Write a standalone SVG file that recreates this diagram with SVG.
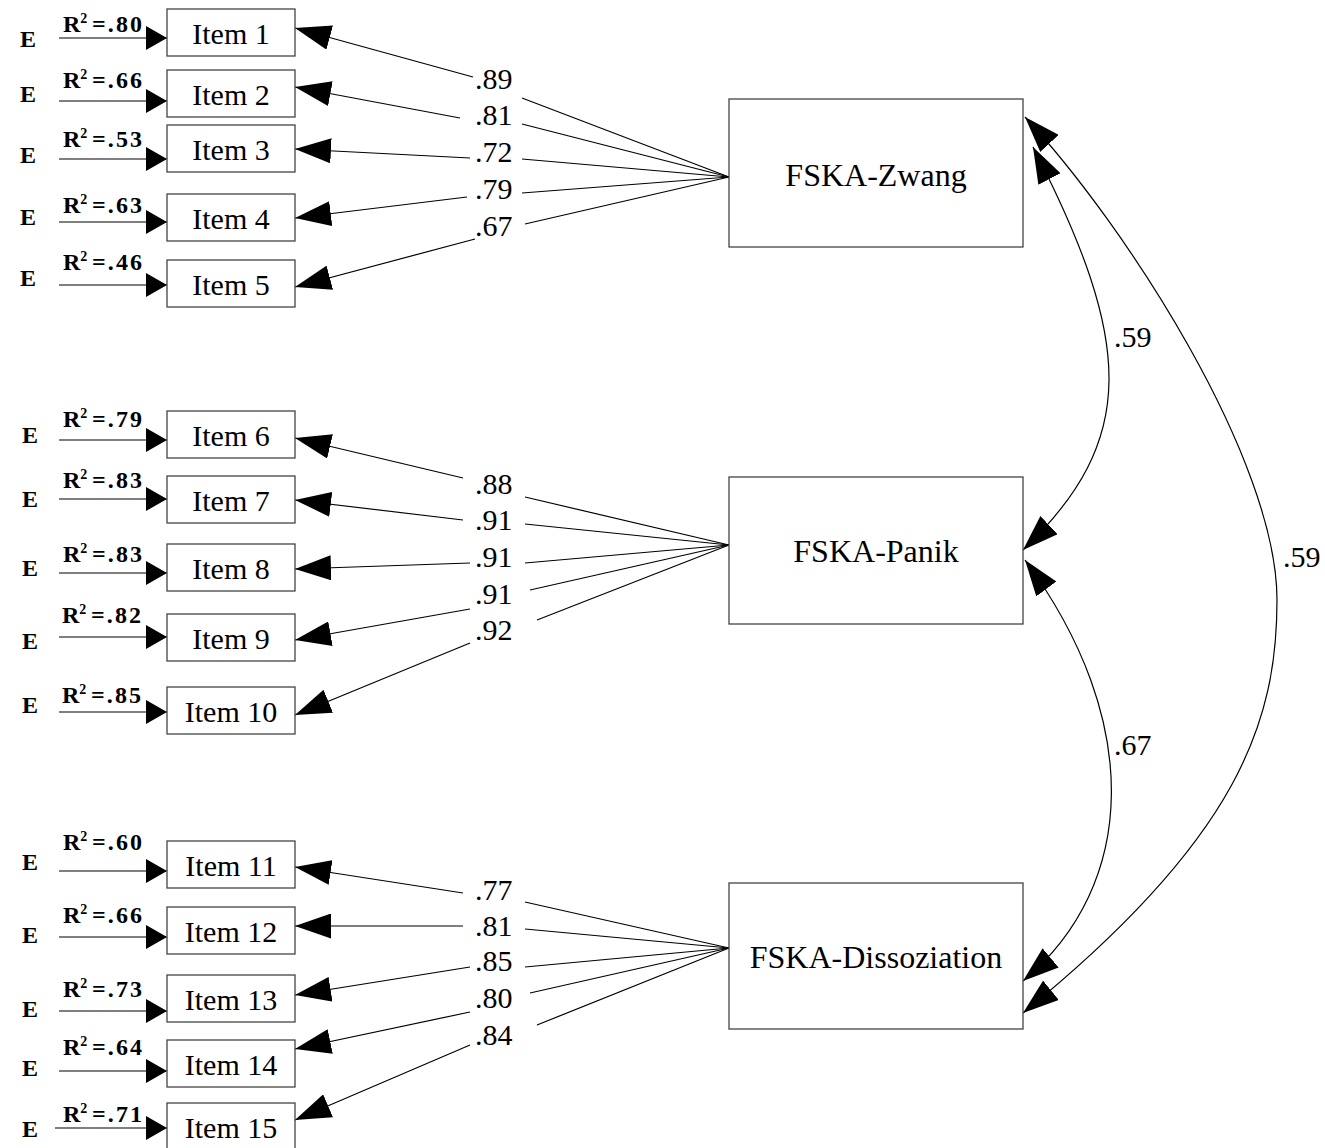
<svg xmlns="http://www.w3.org/2000/svg" width="1325" height="1148" viewBox="0 0 1325 1148">
<style>
text{font-family:"Liberation Serif","Times New Roman",serif;fill:#000}
.box{fill:#fff;stroke:#444;stroke-width:1.3}
.it{font-size:30px;text-anchor:middle}
.fac{font-size:32px;text-anchor:middle}
.e{font-size:24px;font-weight:bold}
.r{font-size:24px;font-weight:bold}
.sup{font-size:14px;font-weight:bold}
.ld{font-size:30px}
.ln{fill:none;stroke:#000;stroke-width:1.2}
.ia{marker-end:url(#ah)}
.ea{marker-end:url(#eh)}
.dbl{marker-start:url(#ah);marker-end:url(#ah)}
</style>
<defs>
<marker id="ah" markerUnits="userSpaceOnUse" viewBox="0 0 36 25" markerWidth="36" markerHeight="25" refX="36" refY="12.5" orient="auto-start-reverse"><path d="M0,0 L36,12.5 L0,25 Z" fill="#000"/></marker>
<marker id="eh" markerUnits="userSpaceOnUse" viewBox="0 0 21 24" markerWidth="21" markerHeight="24" refX="21" refY="12" orient="auto"><path d="M0,0 L21,12 L0,24 Z" fill="#000"/></marker>
</defs>

<g id="connectors">
<path class="ln ea" d="M59,38 H167"/>
<path class="ln ea" d="M59,101 H167"/>
<path class="ln ea" d="M59,159 H167"/>
<path class="ln ea" d="M59,222 H167"/>
<path class="ln ea" d="M59,285 H167"/>
<path class="ln ea" d="M59,440 H167"/>
<path class="ln ea" d="M59,499 H167"/>
<path class="ln ea" d="M59,573 H167"/>
<path class="ln ea" d="M59,637 H167"/>
<path class="ln ea" d="M59,712 H167"/>
<path class="ln ea" d="M59,871 H167"/>
<path class="ln ea" d="M59,937 H167"/>
<path class="ln ea" d="M59,1011 H167"/>
<path class="ln ea" d="M59,1071 H167"/>
<path class="ln ea" d="M55,1128 H167"/>
<path class="ln ia" d="M473,77 L295,28"/><path class="ln" d="M522,98 L729,177"/>
<path class="ln ia" d="M460,118 L295,87"/><path class="ln" d="M522,124 L729,177"/>
<path class="ln ia" d="M470,158 L295,149"/><path class="ln" d="M522,159 L729,177"/>
<path class="ln ia" d="M467,197 L295,218"/><path class="ln" d="M522,193 L729,177"/>
<path class="ln ia" d="M475,239 L295,287"/><path class="ln" d="M525,224 L729,177"/>
<path class="ln ia" d="M463,478 L295,438"/><path class="ln" d="M525,497 L729,545"/>
<path class="ln ia" d="M463,520 L295,500"/><path class="ln" d="M525,524 L729,545"/>
<path class="ln ia" d="M470,563 L295,569"/><path class="ln" d="M525,563 L729,545"/>
<path class="ln ia" d="M470,609 L295,640"/><path class="ln" d="M530,590 L729,545"/>
<path class="ln ia" d="M470,643 L295,715"/><path class="ln" d="M537,620 L729,545"/>
<path class="ln ia" d="M463,893 L295,867"/><path class="ln" d="M525,902 L729,948"/>
<path class="ln ia" d="M463,926 L295,926"/><path class="ln" d="M525,929 L729,948"/>
<path class="ln ia" d="M470,967 L295,995"/><path class="ln" d="M525,967 L729,948"/>
<path class="ln ia" d="M470,1012 L295,1049"/><path class="ln" d="M530,993 L729,948"/>
<path class="ln ia" d="M470,1045 L295,1120"/><path class="ln" d="M537,1025 L729,948"/>
<path class="ln dbl" d="M1033,147 C1134,343 1138,440 1023,550"/>
<path class="ln dbl" d="M1025,560 C1143,720 1138,885 1023,981"/>
<path class="ln dbl" d="M1025,117 C1127,227 1277,460 1277,600 C1277,720 1240,837 1023,1013"/>
</g>

<g id="loading-labels">
<text class="ld" x="475" y="89">.89</text>
<text class="ld" x="475" y="125">.81</text>
<text class="ld" x="475" y="162">.72</text>
<text class="ld" x="475" y="199">.79</text>
<text class="ld" x="475" y="236">.67</text>
<text class="ld" x="475" y="494">.88</text>
<text class="ld" x="475" y="530">.91</text>
<text class="ld" x="475" y="567">.91</text>
<text class="ld" x="475" y="604">.91</text>
<text class="ld" x="475" y="640">.92</text>
<text class="ld" x="475" y="900">.77</text>
<text class="ld" x="475" y="936">.81</text>
<text class="ld" x="475" y="971">.85</text>
<text class="ld" x="475" y="1008">.80</text>
<text class="ld" x="475" y="1045">.84</text>
<text class="ld" x="1114" y="347">.59</text>
<text class="ld" x="1114" y="755">.67</text>
<text class="ld" x="1283" y="567">.59</text>
</g>

<g id="factor-zwang"><rect class="box" x="729" y="99" width="294" height="148"/><text class="fac" x="876" y="186">FSKA-Zwang</text></g>
<g id="factor-panik"><rect class="box" x="729" y="477" width="294" height="147"/><text class="fac" x="876" y="562">FSKA-Panik</text></g>
<g id="factor-dissoziation"><rect class="box" x="729" y="883" width="294" height="146"/><text class="fac" x="876" y="968">FSKA-Dissoziation</text></g>

<g id="item1"><rect class="box" x="167" y="9" width="128" height="47"/><text class="it" x="231" y="44">Item 1</text><text class="e" x="20" y="47">E</text><text class="r" x="63" y="32">R<tspan class="sup" dy="-9">2</tspan><tspan x="92" dy="9" textLength="50" lengthAdjust="spacing">=.80</tspan></text></g>
<g id="item2"><rect class="box" x="167" y="70" width="128" height="47"/><text class="it" x="231" y="105">Item 2</text><text class="e" x="20" y="102">E</text><text class="r" x="63" y="88">R<tspan class="sup" dy="-9">2</tspan><tspan x="92" dy="9" textLength="50" lengthAdjust="spacing">=.66</tspan></text></g>
<g id="item3"><rect class="box" x="167" y="125" width="128" height="47"/><text class="it" x="231" y="160">Item 3</text><text class="e" x="20" y="163">E</text><text class="r" x="63" y="147">R<tspan class="sup" dy="-9">2</tspan><tspan x="92" dy="9" textLength="50" lengthAdjust="spacing">=.53</tspan></text></g>
<g id="item4"><rect class="box" x="167" y="194" width="128" height="47"/><text class="it" x="231" y="229">Item 4</text><text class="e" x="20" y="225">E</text><text class="r" x="63" y="213">R<tspan class="sup" dy="-9">2</tspan><tspan x="92" dy="9" textLength="50" lengthAdjust="spacing">=.63</tspan></text></g>
<g id="item5"><rect class="box" x="167" y="260" width="128" height="47"/><text class="it" x="231" y="295">Item 5</text><text class="e" x="20" y="286">E</text><text class="r" x="63" y="270">R<tspan class="sup" dy="-9">2</tspan><tspan x="92" dy="9" textLength="50" lengthAdjust="spacing">=.46</tspan></text></g>
<g id="item6"><rect class="box" x="167" y="411" width="128" height="47"/><text class="it" x="231" y="446">Item 6</text><text class="e" x="22" y="443">E</text><text class="r" x="63" y="427">R<tspan class="sup" dy="-9">2</tspan><tspan x="92" dy="9" textLength="50" lengthAdjust="spacing">=.79</tspan></text></g>
<g id="item7"><rect class="box" x="167" y="476" width="128" height="47"/><text class="it" x="231" y="511">Item 7</text><text class="e" x="22" y="507">E</text><text class="r" x="63" y="488">R<tspan class="sup" dy="-9">2</tspan><tspan x="92" dy="9" textLength="50" lengthAdjust="spacing">=.83</tspan></text></g>
<g id="item8"><rect class="box" x="167" y="544" width="128" height="47"/><text class="it" x="231" y="579">Item 8</text><text class="e" x="22" y="576">E</text><text class="r" x="63" y="562">R<tspan class="sup" dy="-9">2</tspan><tspan x="92" dy="9" textLength="50" lengthAdjust="spacing">=.83</tspan></text></g>
<g id="item9"><rect class="box" x="167" y="614" width="128" height="47"/><text class="it" x="231" y="649">Item 9</text><text class="e" x="22" y="649">E</text><text class="r" x="62" y="623">R<tspan class="sup" dy="-9">2</tspan><tspan x="91" dy="9" textLength="50" lengthAdjust="spacing">=.82</tspan></text></g>
<g id="item10"><rect class="box" x="167" y="687" width="128" height="47"/><text class="it" x="231" y="722">Item 10</text><text class="e" x="22" y="713">E</text><text class="r" x="62" y="703">R<tspan class="sup" dy="-9">2</tspan><tspan x="91" dy="9" textLength="50" lengthAdjust="spacing">=.85</tspan></text></g>
<g id="item11"><rect class="box" x="167" y="841" width="128" height="47"/><text class="it" x="231" y="876">Item 11</text><text class="e" x="22" y="870">E</text><text class="r" x="63" y="850">R<tspan class="sup" dy="-9">2</tspan><tspan x="92" dy="9" textLength="50" lengthAdjust="spacing">=.60</tspan></text></g>
<g id="item12"><rect class="box" x="167" y="907" width="128" height="47"/><text class="it" x="231" y="942">Item 12</text><text class="e" x="22" y="943">E</text><text class="r" x="63" y="923">R<tspan class="sup" dy="-9">2</tspan><tspan x="92" dy="9" textLength="50" lengthAdjust="spacing">=.66</tspan></text></g>
<g id="item13"><rect class="box" x="167" y="975" width="128" height="47"/><text class="it" x="231" y="1010">Item 13</text><text class="e" x="22" y="1017">E</text><text class="r" x="63" y="997">R<tspan class="sup" dy="-9">2</tspan><tspan x="92" dy="9" textLength="50" lengthAdjust="spacing">=.73</tspan></text></g>
<g id="item14"><rect class="box" x="167" y="1040" width="128" height="47"/><text class="it" x="231" y="1075">Item 14</text><text class="e" x="22" y="1076">E</text><text class="r" x="63" y="1055">R<tspan class="sup" dy="-9">2</tspan><tspan x="92" dy="9" textLength="50" lengthAdjust="spacing">=.64</tspan></text></g>
<g id="item15"><rect class="box" x="167" y="1103" width="128" height="47"/><text class="it" x="231" y="1138">Item 15</text><text class="e" x="22" y="1137">E</text><text class="r" x="63" y="1122">R<tspan class="sup" dy="-9">2</tspan><tspan x="92" dy="9" textLength="50" lengthAdjust="spacing">=.71</tspan></text></g>
</svg>
